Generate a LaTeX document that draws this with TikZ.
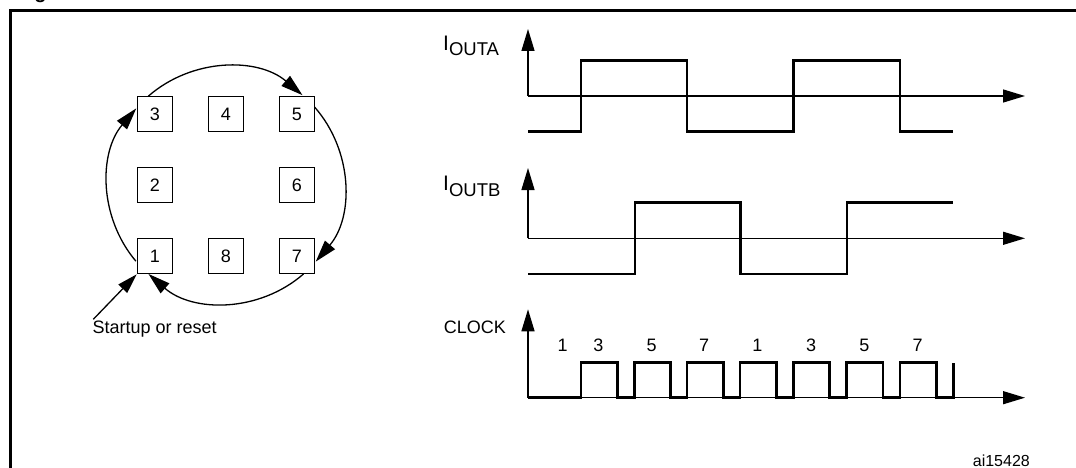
\documentclass[tikz,border=0pt]{standalone}
\usepackage{fontspec}
\setmainfont{Liberation Sans}
\usetikzlibrary{arrows.meta}
\begin{document}
\begin{tikzpicture}[x=1pt,y=1pt,
  thinline/.style={line width=1.3pt},
  wave/.style={line width=2.6pt, line join=miter},
  bigtip/.style={-{Triangle[length=22pt,width=13pt]}},
  posbox/.style={draw, line width=1.2pt, minimum size=35.5pt, inner sep=0pt, font=\fontsize{18}{20}\selectfont},
  lbl/.style={font=\fontsize{18}{20}\selectfont, inner sep=0pt}]
\useasboundingbox (0,0) rectangle (1076,-468);

% frame and cut caption
\draw[line width=2.8pt] (10.3,-472) -- (10.3,-10.3) -- (1080,-10.3);
\node[anchor=base west, inner sep=0pt, font=\bfseries\fontsize{20}{24}\selectfont] (fig) at (16.4,1) {Figure};

% state boxes
\node[posbox] (b3) at (155,-114) {3};
\node[posbox] (b4) at (226,-114) {4};
\node[posbox] (b5) at (297,-114) {5};
\node[posbox] (b2) at (155,-185) {2};
\node[posbox] (b6) at (297,-185) {6};
\node[posbox] (b1) at (155,-256) {1};
\node[posbox] (b8) at (226,-256) {8};
\node[posbox] (b7) at (297,-256) {7};

% circle arcs
\coordinate (c) at (226,-185);
\draw[thinline, bigtip] ([shift={(131.2:118)}]c) arc[start angle=131.2, end angle=49.6, radius=118];
\draw[thinline, bigtip] ([shift={(41.4:118)}]c) arc[start angle=41.4, end angle=-40.5, radius=118];
\draw[thinline, bigtip] ([shift={(-48.9:118)}]c) arc[start angle=-48.9, end angle=-131.1, radius=118];
\draw[thinline, bigtip] ([shift={(-139.8:118)}]c) arc[start angle=-139.8, end angle=-220.5, radius=118];

% startup
\coordinate (s) at (93.3,-319.3);
\draw[thinline, -{Triangle[length=20pt,width=12pt]}] (s) -- (b1.south west);
\node[lbl, anchor=base west] (st) at (92.5,-333) {Startup or reset};

% I_OUTA
\coordinate (oa) at (528,-96);
\coordinate (ya) at (528,-29);
\coordinate (xa) at (1025,-96);
\draw[thinline, bigtip] (oa) -- (ya);
\draw[thinline, bigtip] (oa) -- (xa);
\draw[wave] (528,-131.7) -- (581,-131.7) -- (581,-60.7) -- (687,-60.7) -- (687,-131.7)
  -- (793.3,-131.7) -- (793.3,-60.7) -- (900,-60.7) -- (900,-131.7) -- (953.3,-131.7);
\node[anchor=base west, inner sep=0pt, font=\fontsize{21}{24}\selectfont] (la) at (443,-50.7)
  {I\raisebox{-5.3pt}{\fontsize{18.5}{20}\selectfont OUTA}};

% I_OUTB
\coordinate (ob) at (528,-238.3);
\coordinate (yb) at (528,-168);
\coordinate (xb) at (1025,-238.3);
\draw[thinline, bigtip] (ob) -- (yb);
\draw[thinline, bigtip] (ob) -- (xb);
\draw[wave] (528,-274) -- (635,-274) -- (635,-202.7) -- (740.5,-202.7) -- (740.5,-274)
  -- (847,-274) -- (847,-202.7) -- (953.3,-202.7);
\node[anchor=base west, inner sep=0pt, font=\fontsize{21}{24}\selectfont] (lb) at (443,-190.7)
  {I\raisebox{-5.3pt}{\fontsize{18.5}{20}\selectfont OUTB}};

% CLOCK
\coordinate (oc) at (528,-397.7);
\coordinate (yc) at (528,-309.3);
\coordinate (xc) at (1025,-397.7);
\draw[thinline, bigtip] (oc) -- (yc);
\draw[thinline, bigtip] (oc) -- (xc);
\draw[wave] (528,-397.7)
  foreach \r in {581,634.3,687,740,793.3,846.7,900} { -- (\r,-397.7) -- (\r,-362.7) -- (\r+36.3,-362.7) -- (\r+36.3,-397.7) }
  -- (953.3,-397.7) -- (953.3,-362.7);
\node[lbl, anchor=base east] (lc) at (506,-333) {CLOCK};
\foreach \x/\t [count=\i] in {562.7/1,598.3/3,651.7/5,704/7,757.3/1,811/3,864.3/5,917.7/7}
  \node[lbl, anchor=base] (n\i) at (\x,-351.7) {\t};

\node[anchor=base east, inner sep=0pt, font=\fontsize{16}{18}\selectfont] (id) at (1030,-466) {ai15428};
\end{tikzpicture}
\end{document}
